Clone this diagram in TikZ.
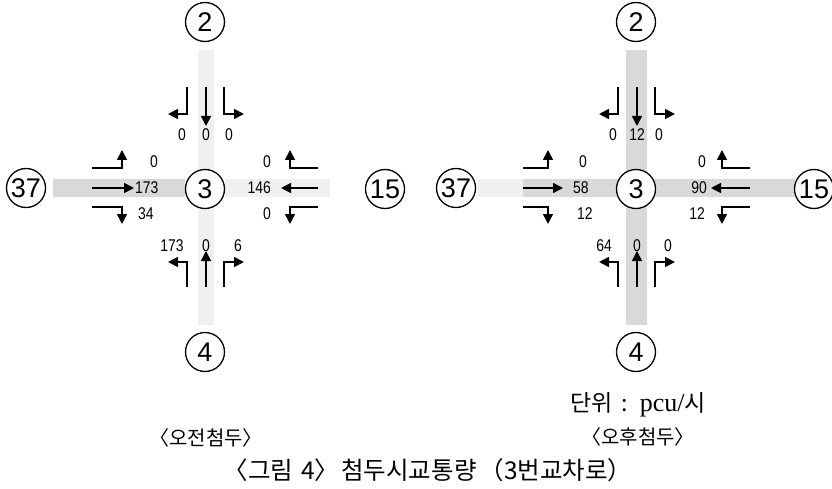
\documentclass[tikz,border=0pt]{standalone}
\usepackage{fontspec}
\setmainfont{Liberation Sans}
\newfontfamily\kr{Noto Sans CJK KR}
\newfontfamily\numf[FakeStretch=0.82]{Liberation Sans}
\newfontfamily\pcufont{Liberation Serif}
\usetikzlibrary{arrows.meta}
\tikzset{
  mv/.style={line width=1.6pt, -{Triangle[length=10pt,width=10pt]}},
  zone/.style={circle, draw, fill=white, line width=1.3pt, minimum size=39pt, inner sep=0pt,
               font=\fontsize{27}{27}\selectfont},
  num/.style={font=\numf\fontsize{17}{17}\selectfont, inner sep=0pt},
  bandD/.style={fill=gray!30, draw=none},
  bandL/.style={fill=gray!12, draw=none},
  captxt/.style={font=\kr\fontsize{20}{20}\selectfont, inner sep=0pt},
  titletxt/.style={font=\kr\fontsize{24.5}{24.5}\selectfont, inner sep=0pt},
}
\begin{document}
\begin{tikzpicture}[x=1pt,y=-1pt]
\useasboundingbox (0,0) rectangle (832,489);

% ================= left diagram (AM peak) =================
\begin{scope}[shift={(205,189)}]
  % grey road bands
  \fill[bandL] (-7,-139) rectangle (9,136);
  \fill[bandD] (-152,-10) rectangle (-20,8);
  \fill[bandL] (20,-10) rectangle (125,8);
  % zone circles
  \node[zone] (c3L) at (0,0) {3};
  \node[zone] (c2L) at (0,-167) {2};
  \node[zone] (c4L) at (0,163) {4};
  \node[zone] (c37L) at (-179,-1) {37};
  \node[zone] (c15L) at (180,0) {15};
  % southbound (from 2)
  \draw[mv] (-18,-102) -- (-18,-75) -- (-37,-75);
  \draw[mv] (1,-102) -- (1,-63);
  \draw[mv] (19,-102) -- (19,-75) -- (39,-75);
  % northbound (from 4)
  \draw[mv] (-18,98) -- (-18,73) -- (-37,73);
  \draw[mv] (1,98) -- (1,62);
  \draw[mv] (19,98) -- (19,73) -- (39,73);
  % eastbound (from 37)
  \draw[mv] (-113,-21) -- (-83,-21) -- (-83,-39);
  \draw[mv] (-113,-1) -- (-71,-1);
  \draw[mv] (-113,18) -- (-83,18) -- (-83,35);
  % westbound (from 15)
  \draw[mv] (113,-21) -- (85,-21) -- (85,-39);
  \draw[mv] (113,-1) -- (76,-1);
  \draw[mv] (113,18) -- (85,18) -- (85,35);
  % volumes
  \node[num] (tL1) at (-23,-54) {0};
  \node[num] (tL2) at (1,-54) {0};
  \node[num] (tL3) at (24,-54) {0};
  \node[num] (bL1) at (-33,57) {173};
  \node[num] (bL2) at (1,57) {0};
  \node[num] (bL3) at (33,57) {6};
  \node[num] (lL1) at (-51,-27) {0};
  \node[num,anchor=west] (lL2) at (-70,-1) {173};
  \node[num,anchor=west] (lL3) at (-67,25) {34};
  \node[num] (rL1) at (62,-27) {0};
  \node[num,anchor=east] (rL2) at (66,-1) {146};
  \node[num] (rL3) at (62,25) {0};
\end{scope}

% ================= right diagram (PM peak) =================
\begin{scope}[shift={(636,189)}]
  \fill[bandD] (-10,-139) rectangle (11,136);
  \fill[bandL] (-158,-10) rectangle (-113,8);
  \fill[bandD] (-113,-10) rectangle (159,8);
  \node[zone] (c3R) at (0,0) {3};
  \node[zone] (c2R) at (0,-167) {2};
  \node[zone] (c4R) at (0,163) {4};
  \node[zone] (c37R) at (-180,-1) {37};
  \node[zone] (c15R) at (178,0) {15};
  % southbound
  \draw[mv] (-18,-102) -- (-18,-75) -- (-37,-75);
  \draw[mv] (1,-102) -- (1,-63);
  \draw[mv] (19,-102) -- (19,-75) -- (39,-75);
  % northbound
  \draw[mv] (-18,98) -- (-18,73) -- (-37,73);
  \draw[mv] (1,98) -- (1,62);
  \draw[mv] (19,98) -- (19,73) -- (39,73);
  % eastbound
  \draw[mv] (-113,-21) -- (-88,-21) -- (-88,-39);
  \draw[mv] (-113,-1) -- (-73,-1);
  \draw[mv] (-113,18) -- (-88,18) -- (-88,35);
  % westbound
  \draw[mv] (114,-21) -- (86,-21) -- (86,-39);
  \draw[mv] (114,-1) -- (75,-1);
  \draw[mv] (114,18) -- (86,18) -- (86,35);
  % volumes
  \node[num] (tR1) at (-23,-54) {0};
  \node[num] (tR2) at (1,-54) {12};
  \node[num] (tR3) at (23,-54) {0};
  \node[num] (bR1) at (-32,57) {64};
  \node[num] (bR2) at (1,57) {0};
  \node[num] (bR3) at (32,57) {0};
  \node[num] (lR1) at (-53,-27) {0};
  \node[num,anchor=west] (lR2) at (-63,-1) {58};
  \node[num,anchor=west] (lR3) at (-59,25) {12};
  \node[num] (rR1) at (66,-27) {0};
  \node[num,anchor=east] (rR2) at (71,-1) {90};
  \node[num,anchor=east] (rR3) at (69,25) {12};
\end{scope}

% ================= captions =================
\node[captxt] (amcap) at (206,438) {〈오전첨두〉};
\node[captxt, font=\kr\fontsize{23}{23}\selectfont] (unit) at (638,405)
  {단위\hspace{9pt}:\hspace{12pt}{\pcufont\fontsize{26}{26}\selectfont pcu/}시};
\node[captxt] (pmcap) at (638,437) {〈오후첨두〉};
\node[titletxt] (title) at (428,470)
  {〈그림\hspace{8pt}4〉\hspace{2pt}첨두시교통량\hspace{3pt}（3번교차로）};
\end{tikzpicture}
\end{document}
